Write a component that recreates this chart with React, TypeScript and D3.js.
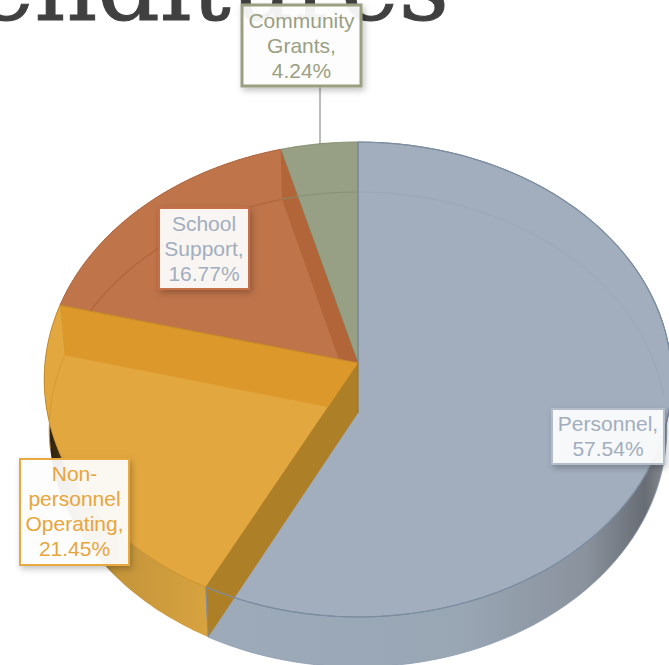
import React from "react";
import * as d3 from "d3";

const categories = ["Personnel", "Non-personnel Operating", "School Support", "Community Grants"];
const shares = [57.54, 21.45, 16.77, 4.24];
const labelLines = [["Personnel,"], ["Non-", "personnel", "Operating,"], ["School", "Support,"], ["Community", "Grants,"]];

const topFill = ["#A2AEBE", "#E3A73F", "#BF744A", "#97A084"];
const topEdge = ["#7C8DA1", "#C98F2A", "#A9623A", "#7F8A6C"];
const labelStroke = ["#B4BECB", "#E8A93F", "#C5704A", "#9A9F82"];
const labelText = ["#A2AEBE", "#E8A53C", "#A2AEBE", "#9A9F82"];
const bandFill = ["#AD7F26", "#DD982B", "#B26538", "#97A084"];
const boxes = [
  { x: 552, y: 409, w: 112, h: 55, first: 431 },
  { x: 20, y: 459, w: 109, h: 106, first: 481 },
  { x: 159, y: 208, w: 90, h: 81, first: 231 },
  { x: 242, y: 5, w: 119, h: 81, first: 28 },
];

const W = 669, H = 665;
const cx = 358, topY = 363, botY = 413;
const k = 0.0694, fTop = 313, fBot = 308, g = 236.3;

const project = (a: number, level: "top" | "bot", r = 1): [number, number] => {
  const u = r * Math.sin(a), v = -r * Math.cos(a), w = 1 - k * v;
  const f = level === "top" ? fTop : fBot;
  return [cx + (f * u) / w, (level === "top" ? topY : botY) + (g * v) / w];
};
const arcPts = (a0: number, a1: number, level: "top" | "bot") =>
  d3.range(0, 81).map((i) => project(a0 + ((a1 - a0) * i) / 80, level));
const closed = d3.line().curve(d3.curveLinearClosed);
const open = d3.line();

const pie = d3.pie<number>().sort(null).value((d) => d);
const arcs = pie(shares);

export default function App() {
  const P = arcs[0], O = arcs[1], S = arcs[2], C = arcs[3];
  const apexT: [number, number] = [cx, topY];
  const apexB: [number, number] = [cx, botY];
  const wedge = (a: d3.PieArcDatum<number>) => closed([apexT, ...arcPts(a.startAngle, a.endAngle, "top")]) as string;
  const wall = (a0: number, a1: number) =>
    closed([...arcPts(a0, a1, "top"), ...arcPts(a1, a0, "bot")]) as string;
  const sideWall = (a: number) =>
    closed([apexT, project(a, "top"), project(a, "bot"), apexB]) as string;
  const redWallClip = "redClip";
  return (
    <svg width={W} height={H} viewBox={`0 0 ${W} ${H}`} style={{ position: "absolute", left: 0, top: 0, background: "#fff", overflow: "hidden" }}>
      <defs>
        <linearGradient id="pw" gradientUnits="userSpaceOnUse" x1={209} x2={668} y1={0} y2={0}>
          <stop offset="0" stopColor="#9DAAB9" />
          <stop offset="0.55" stopColor="#99A6B4" />
          <stop offset="0.82" stopColor="#8A929D" />
          <stop offset="0.95" stopColor="#686D74" />
          <stop offset="1" stopColor="#8B9097" />
        </linearGradient>
        <linearGradient id="ow" gradientUnits="userSpaceOnUse" x1={209} x2={44} y1={0} y2={0}>
          <stop offset="0" stopColor="#D8A340" />
          <stop offset="0.55" stopColor="#C5953A" />
          <stop offset="0.8" stopColor="#8F6A22" />
          <stop offset="0.92" stopColor="#3A2A0E" />
          <stop offset="1" stopColor="#2A1E0A" />
        </linearGradient>
        <filter id="sh" x="-20%" y="-20%" width="150%" height="150%">
          <feDropShadow dx={2} dy={3} stdDeviation={3} floodColor="#000" floodOpacity={0.25} />
        </filter>
        <clipPath id={redWallClip}><path d={wedge(S)} /></clipPath>
      </defs>

      <text x={449} y={20} textAnchor="end" fontFamily="'DejaVu Serif'" fontSize={98} fill="#404040" stroke="#404040" strokeWidth={1}>Expenditures</text>

      <line x1={320} x2={320} y1={86} y2={146} stroke="#A5A5A5" strokeWidth={1.5} />

      {/* outer walls */}
      <path d={wall(O.startAngle, O.endAngle)} fill="url(#ow)" />
      <path d={wall(Math.PI * 0.35, P.endAngle)} fill="url(#pw)" stroke="#8A9BAF" strokeWidth={0.8} />

      {/* top faces */}
      {arcs.map((a, i) => (
        <path key={categories[i]} d={wedge(a)} fill={topFill[i]} stroke={topEdge[i]} strokeWidth={1} />
      ))}

      {/* inner walls seen through the translucent faces */}
      <path d={sideWall(S.endAngle)} fill={bandFill[2]} clipPath={`url(#${redWallClip})`} />

      {/* back of the base, seen through the faces */}
      <path d={open(arcPts(P.startAngle, P.startAngle + 1.5, "bot")) as string} fill="none" stroke="#8F9CAC" strokeWidth={1} opacity={0.4} />
      <path d={open(arcPts(C.startAngle, C.endAngle, "bot")) as string} fill="none" stroke="#858F73" strokeWidth={1} />
      <path d={open(arcPts(S.startAngle, S.endAngle, "bot")) as string} fill="none" stroke="#B0653B" strokeWidth={1.2} clipPath={`url(#${redWallClip})`} />

      <path d={sideWall(O.endAngle)} fill={bandFill[1]} />
      <path d={open([apexT, project(O.endAngle, "top")]) as string} fill="none" stroke={topEdge[1]} strokeWidth={1.2} />
      <path d={open(arcPts(O.endAngle - 0.4, O.endAngle, "bot")) as string} fill="none" stroke="#D49A36" strokeWidth={1} />

      {/* wall between operating and personnel */}
      <path d={sideWall(P.endAngle)} fill={bandFill[0]} />
      <path d={open([project(P.endAngle, "top"), project(P.endAngle, "bot")]) as string} fill="none" stroke="#7C8DA1" strokeWidth={1} />
      <path d={open(arcPts(P.startAngle, P.endAngle, "top")) as string} fill="none" stroke={topEdge[0]} strokeWidth={1.2} />
      <path d={open([[cx, 142], apexT]) as string} fill="none" stroke={topEdge[0]} strokeWidth={1.4} />
      <path d={open([apexT, apexB]) as string} fill="none" stroke="#8E7430" strokeWidth={1} />

      {/* labels */}
      {arcs.map((a, i) => {
        const b = boxes[i];
        const lines = [...labelLines[i], `${shares[i].toFixed(2)}%`];
        return (
          <g key={categories[i]}>
            <rect x={b.x} y={b.y} width={b.w} height={b.h} fill="#fff" fillOpacity={0.92} stroke={labelStroke[i]} strokeWidth={i === 3 ? 3 : 2} filter="url(#sh)" />
            <text textAnchor="middle" fontFamily="'Liberation Sans'" fontSize={21} fill={labelText[i]}>
              {lines.map((l, j) => (
                <tspan key={j} x={b.x + b.w / 2} y={b.first + j * 25}>{l}</tspan>
              ))}
            </text>
          </g>
        );
      })}
    </svg>
  );
}
